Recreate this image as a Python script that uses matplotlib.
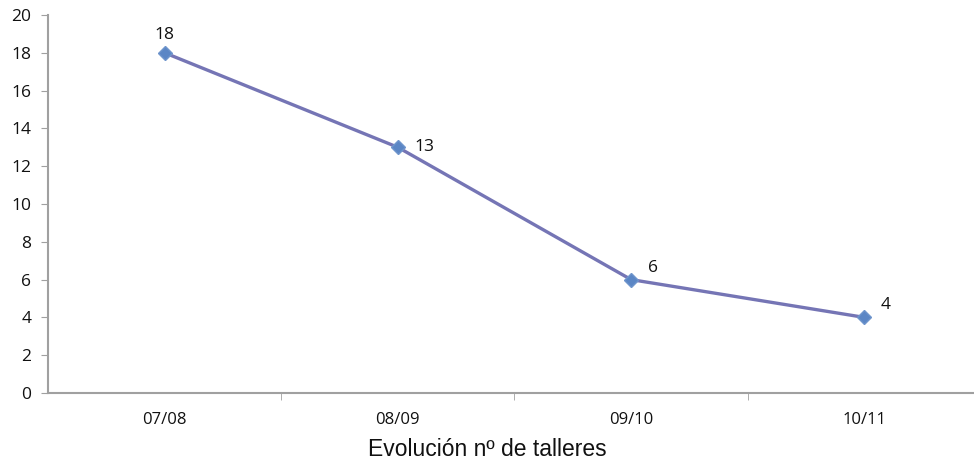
import matplotlib
matplotlib.use("Agg")
import matplotlib.pyplot as plt

categories = ["07/08", "08/09", "09/10", "10/11"]
values = [18, 13, 6, 4]
yticks = [0, 2, 4, 6, 8, 10, 12, 14, 16, 18, 20]
title = "Evolución nº de talleres"

W, H = 974, 463
fig = plt.figure(figsize=(W/100, H/100), dpi=100)
ax = fig.add_axes([48/W, (H-393)/H, (974-48)/W, (393-15)/H])

x = list(range(len(categories)))
ax.plot(x, values, color="#7575b5", lw=2.4, zorder=2)
ax.plot(x, values, linestyle="none", marker="D", ms=7.5, color="#5b86c5",
        markeredgecolor="#6f95cc", zorder=3)

label_dy = [None, 0, 8, 9]
for xi, v, dy in zip(x, values, label_dy):
    if dy is None:
        ax.annotate(str(v), (xi, v), xytext=(0, 7), textcoords="offset points",
                    ha="center", va="bottom", fontsize=12.5, family="Open Sans",
                    color="#111111")
    else:
        ax.annotate(str(v), (xi, v), xytext=(12, dy), textcoords="offset points",
                    ha="left", va="center", fontsize=12.5, family="Open Sans",
                    color="#111111")

ax.set_xlim(-0.5, 3.47)
ax.set_ylim(0, 20)
ax.set_yticks(yticks)
ax.set_yticklabels([str(t) for t in yticks], fontsize=12.5, family="Open Sans",
                   color="#111111")
ax.set_xticks(x)
ax.set_xticklabels(categories, fontsize=12, family="Open Sans", color="#111111")
ax.set_xticks([0.5, 1.5, 2.5], minor=True)
ax.tick_params(axis="x", which="major", length=0, pad=14)
ax.tick_params(axis="x", which="minor", length=5, color="#a0a0a0", direction="out")
ax.tick_params(axis="y", length=5, color="#a0a0a0", direction="out", pad=7)
for s in ["top", "right"]:
    ax.spines[s].set_visible(False)
for s in ["left", "bottom"]:
    ax.spines[s].set_color("#a0a0a0")
    ax.spines[s].set_linewidth(1.5)

fig.text(487/W, 1 - 449/H, title, ha="center", va="center", fontsize=16.5,
         family="Liberation Sans", color="#111111")

fig.savefig("out.png", dpi=100)
